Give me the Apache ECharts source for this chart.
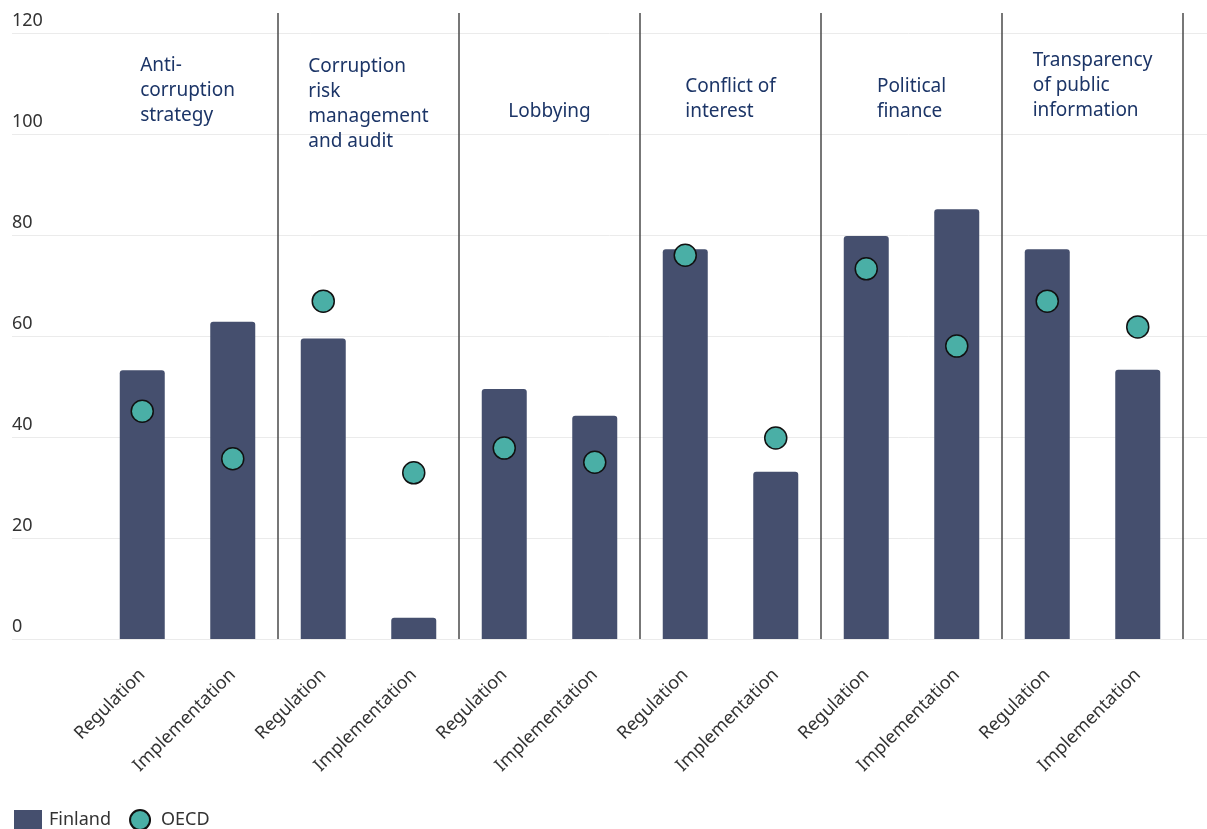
<!DOCTYPE html>
<html><head><meta charset="utf-8">
<script src="https://cdn.jsdelivr.net/npm/echarts@6/dist/echarts.min.js"></script>
<style>html,body{margin:0;padding:0;background:#fff}#c{width:1207px;height:829px}</style>
</head><body><div id="c"></div>
<script>
// ---- data ----
const groupTitles = [
  'Anti-\ncorruption\nstrategy',
  'Corruption\nrisk\nmanagement\nand audit',
  'Lobbying',
  'Conflict of\ninterest',
  'Political\nfinance',
  'Transparency\nof public\ninformation'
];
const categories = ['Regulation','Implementation','Regulation','Implementation','Regulation','Implementation',
                    'Regulation','Implementation','Regulation','Implementation','Regulation','Implementation'];
const finland = [53.2, 62.8, 59.5, 4.2, 49.5, 44.2, 77.2, 33.1, 79.8, 85.1, 77.2, 53.3];
const oecd    = [45.1, 35.7, 66.9, 32.9, 37.8, 35.0, 76.0, 39.8, 73.3, 58.0, 66.9, 61.8];
const yTicks  = [0, 20, 40, 60, 80, 100, 120];

// ---- layout / style ----
const FONT = '"Noto Sans", sans-serif';
const titleFirstLineOffset = [33, 34, 79, 54, 54, 28];
const TITLE_SIZE = 19, TITLE_LINE = 25;
const measureCtx = document.createElement('canvas').getContext('2d');

const yMin = yTicks[0], yMax = yTicks[yTicks.length - 1], yStep = yTicks[1] - yTicks[0];

const chart = echarts.init(document.getElementById('c'), null, {renderer: 'canvas'});
chart.setOption({
  animation: false,
  backgroundColor: '#fff',
  textStyle: {fontFamily: FONT},
  grid: [
    {left: 12, right: 0, top: 33, bottom: 190},
    {left: 97, right: 24, top: 33, bottom: 190}
  ],
  xAxis: [
    {gridIndex: 0, type: 'value', show: false, min: 0, max: 1},
    {gridIndex: 1, type: 'category', data: categories,
     axisLine: {show: false}, axisTick: {show: false},
     axisLabel: {interval: 0, rotate: 45, margin: 33, fontSize: 18, color: '#333', fontFamily: FONT}}
  ],
  yAxis: [
    {gridIndex: 0, type: 'value', min: yMin, max: yMax, interval: yStep,
     axisLine: {show: false}, axisTick: {show: false},
     splitLine: {lineStyle: {color: '#ebebeb', width: 1}},
     axisLabel: {align: 'left', margin: 0, verticalAlign: 'bottom', padding: [0, 0, 3, 0],
                 fontSize: 18, color: '#333', fontFamily: FONT}},
    {gridIndex: 1, type: 'value', min: yMin, max: yMax, interval: yStep, show: false,
     splitLine: {show: false}}
  ],
  legend: {
    left: 9, top: 804, itemWidth: 28, itemHeight: 20, itemGap: 18,
    textStyle: {fontSize: 18, color: '#333', fontFamily: FONT, padding: [0, 0, 0, 2]},
    data: [{name: 'Finland', icon: 'rect'}, {name: 'OECD', icon: 'circle'}]
  },
  series: [
    {name: 'Finland', type: 'bar', xAxisIndex: 1, yAxisIndex: 1, data: finland,
     barWidth: 45, itemStyle: {color: '#454f6e', borderRadius: [3, 3, 0, 0]}, z: 2},
    {name: 'OECD', type: 'scatter', xAxisIndex: 1, yAxisIndex: 1, data: oecd,
     symbol: 'circle', symbolSize: 22,
     itemStyle: {color: '#4aafa6', borderColor: '#111', borderWidth: 1.5, opacity: 1}, z: 4},
    {name: 'groups', type: 'custom', xAxisIndex: 1, yAxisIndex: 1, z: 3, silent: true,
     data: groupTitles.map((t, i) => [i]),
     renderItem: function (params, api) {
       const g = api.value(0);
       const a = api.coord([2 * g, yMin]);
       const b = api.coord([2 * g + 1, yMin]);
       const band = api.size([1, 0])[0];
       const top = api.coord([2 * g, yMax])[1];
       const xr = b[0] + band / 2;
       const cx = (a[0] + b[0]) / 2;
       const lines = groupTitles[g].split('\n');
       measureCtx.font = TITLE_SIZE + 'px "Noto Sans"';
       const w = Math.max.apply(null, lines.map(l => measureCtx.measureText(l).width));
       const children = [{
         type: 'line',
         shape: {x1: xr, y1: top - 20, x2: xr, y2: a[1]},
         style: {stroke: '#4a4a4a', lineWidth: 1.5}
       }];
       lines.forEach((l, k) => children.push({
         type: 'text',
         style: {text: l, x: cx - w / 2, y: top + titleFirstLineOffset[g] + k * TITLE_LINE,
                 align: 'left', verticalAlign: 'middle',
                 fontSize: TITLE_SIZE, fontFamily: FONT, fill: '#1c3567'}
       }));
       return {type: 'group', children: children};
     }}
  ]
});
</script></body></html>
